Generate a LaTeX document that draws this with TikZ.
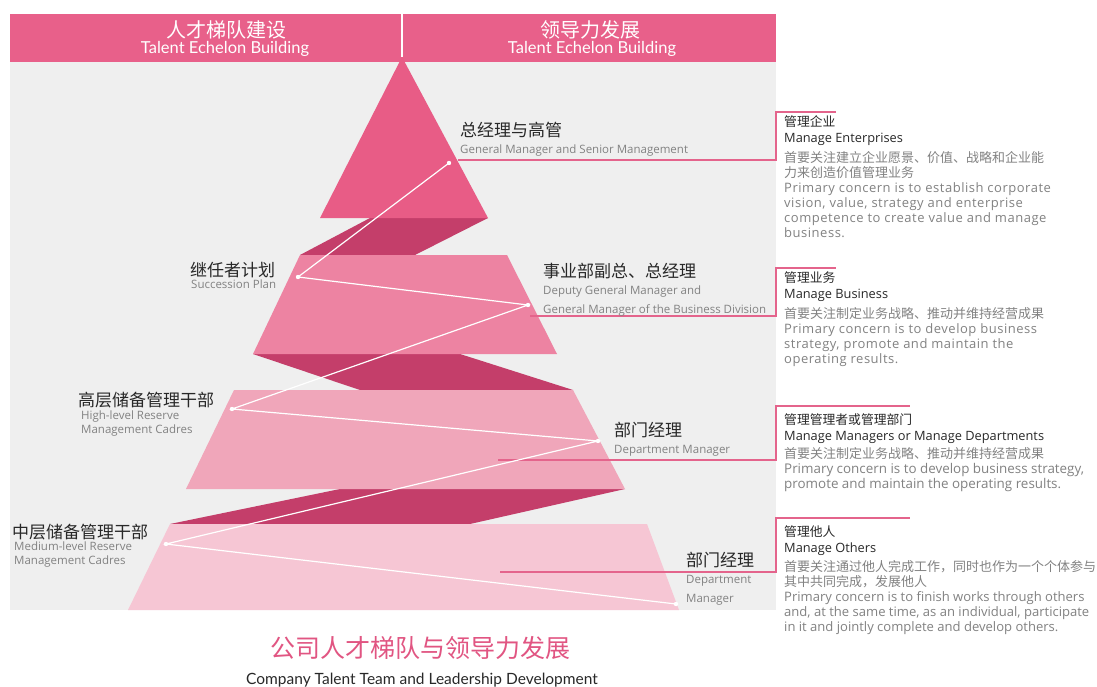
\documentclass[tikz,border=0pt]{standalone}
\usepackage{fontspec}
\setmainfont{Noto Sans CJK SC}
\newfontfamily\latfont{Lato}
\newfontfamily\ensans{Open Sans}
\newfontfamily\enwide{Open Sans}[LetterSpace=4]
\newcommand{\enl}[1]{{\ensans #1}}
\newcommand{\enw}[1]{{\enwide #1}}
\newcommand{\enb}[1]{{\ensans\fontsize{13.4}{15}\selectfont #1}}
\newcommand{\enc}[1]{{\ensans\fontsize{13.05}{15}\selectfont #1}}
\definecolor{hdr}{RGB}{232,96,138}
\definecolor{bgc}{RGB}{239,239,239}
\definecolor{layA}{RGB}{232,92,134}
\definecolor{layB}{RGB}{237,131,162}
\definecolor{layC}{RGB}{240,166,186}
\definecolor{layD}{RGB}{246,198,212}
\definecolor{darkband}{RGB}{196,62,106}
\definecolor{ink}{RGB}{40,40,40}
\definecolor{subink}{RGB}{130,130,130}
\definecolor{leadc}{RGB}{228,100,140}
\definecolor{titlec}{RGB}{225,85,130}
\tikzset{
  cnlabel/.style={anchor=west, inner sep=0pt, text=ink, font=\fontsize{17}{19}\selectfont},
  enlabel/.style={anchor=north west, inner sep=0pt, text=subink, align=left},
  rtitle/.style={anchor=north west, inner sep=0pt, text=ink, align=left, font=\fontsize{12.8}{16}\selectfont},
  rbody/.style={anchor=north west, inner sep=0pt, text=subink, align=left, font=\fontsize{13}{15}\selectfont},
  hdrtext/.style={inner sep=0pt, text=white},
  zig/.style={white, line width=1.2pt},
  zdot/.style={fill=white, draw=none},
  leader/.style={leadc, line width=1.1pt},
}
\begin{document}
\begin{tikzpicture}[x=1pt,y=-1pt]
\useasboundingbox (0,0) rectangle (1097,687);
\fill[white] (0,0) rectangle (1097,687);
\fill[bgc] (10,62) rectangle (776,610);
\fill[hdr] (10,14) rectangle (776,62);
% header texts
\node[hdrtext, font=\fontsize{20}{22}\selectfont] (hl1) at (226,30) {人才梯队建设};
\node[hdrtext, font=\latfont\fontsize{16.5}{18}\selectfont] (hl2) at (225,49) {Talent Echelon Building};
\node[hdrtext, font=\fontsize{20}{22}\selectfont] (hr1) at (590,30) {领导力发展};
\node[hdrtext, font=\latfont\fontsize{16.5}{18}\selectfont] (hr2) at (592,49) {Talent Echelon Building};
% dark bands
\fill[darkband] (370,218) -- (488,218) -- (415,255) -- (300,255) -- cycle;
\fill[darkband] (253,354) -- (460,354) -- (573,390) -- (360,390) -- cycle;
\fill[darkband] (340,489) -- (625,489) -- (470,524) -- (170,524) -- cycle;
% layers
\fill[layD] (170,524) -- (647,524) -- (679,610) -- (128,610) -- cycle;
\fill[layC] (234,390) -- (573,390) -- (625,489) -- (186,489) -- cycle;
\fill[layB] (300,255) -- (507,255) -- (557,354) -- (253,354) -- cycle;
\fill[layA] (402,57) -- (488,218) -- (320,218) -- cycle;
\draw[white, line width=2pt] (402,14) -- (402,57);
% leader lines
\coordinate (a1) at (458,160); \coordinate (a2) at (776,160); \coordinate (a3) at (776,112); \coordinate (a4) at (836,112);
\coordinate (b1) at (530,316); \coordinate (b2) at (776,316); \coordinate (b3) at (776,268); \coordinate (b4) at (836,268);
\coordinate (c1) at (498,460); \coordinate (c2) at (776,460); \coordinate (c3) at (776,406); \coordinate (c4) at (910,406);
\coordinate (d1) at (500,572); \coordinate (d2) at (776,572); \coordinate (d3) at (776,518); \coordinate (d4) at (910,518);
\draw[leader] (a1) -- (a2) -- (a3) -- (a4);
\draw[leader] (b1) -- (b2) -- (b3) -- (b4);
\draw[leader] (c1) -- (c2) -- (c3) -- (c4);
\draw[leader] (d1) -- (d2) -- (d3) -- (d4);
% zigzag
\coordinate (p1) at (449,163);
\coordinate (p2) at (298,277);
\coordinate (p3) at (528,305);
\coordinate (p4) at (232,409);
\coordinate (p5) at (598,441);
\coordinate (p6) at (166,544);
\coordinate (p7) at (676,604);
\draw[zig] (p1) -- (p2) -- (p3) -- (p4) -- (p5) -- (p6) -- (p7);
\foreach \p in {p1,p2,p3,p4,p5,p6,p7} \fill[zdot] (\p) circle (2.2);
% pyramid labels
\node[cnlabel] (l1) at (460,130) {总经理与高管};
\node[enlabel, font=\ensans\fontsize{11.5}{14}\selectfont] (l1e) at (460,145) {General Manager and Senior Management};
\node[cnlabel] (l2) at (190,270) {继任者计划};
\node[enlabel, font=\ensans\fontsize{11.5}{14}\selectfont] (l2e) at (191,280) {Succession Plan};
\node[cnlabel] (l3) at (543,271) {事业部副总、总经理};
\node[enlabel, font=\ensans\fontsize{11.5}{19}\selectfont] (l3e) at (543,286) {Deputy General Manager and\\General Manager of the Business Division};
\node[cnlabel] (l4) at (78,400) {高层储备管理干部};
\node[enlabel, font=\ensans\fontsize{11.5}{14}\selectfont] (l4e) at (81,411) {High-level Reserve\\Management Cadres};
\node[cnlabel] (l5) at (614,430) {部门经理};
\node[enlabel, font=\ensans\fontsize{11.5}{14}\selectfont] (l5e) at (614,445) {Department Manager};
\node[cnlabel] (l6) at (12,532) {中层储备管理干部};
\node[enlabel, font=\ensans\fontsize{11.5}{14}\selectfont] (l6e) at (14,542) {Medium-level Reserve\\Management Cadres};
\node[cnlabel] (l7) at (686,560) {部门经理};
\node[enlabel, font=\ensans\fontsize{11.5}{19}\selectfont] (l7e) at (686,575) {Department\\Manager};
% right blocks
\node[rtitle] (r1t) at (784,115) {管理企业\\\enl{Manage Enterprises}};
\node[rbody] (r1b) at (784,151) {首要关注建立企业愿景、价值、战略和企业能\\力来创造价值管理业务\\\enw{Primary concern is to establish corporate}\\\enw{vision, value, strategy and enterprise}\\\enw{competence to create value and manage}\\\enw{business.}};
\node[rtitle] (r2t) at (784,271) {管理业务\\\enl{Manage Business}};
\node[rbody] (r2b) at (784,307) {首要关注制定业务战略、推动并维持经营成果\\\enw{Primary concern is to develop business}\\\enw{strategy, promote and maintain the}\\\enw{operating results.}};
\node[rtitle] (r3t) at (784,413) {管理管理者或管理部门\\\enl{Manage Managers or Manage Departments}};
\node[rbody] (r3b) at (784,447) {首要关注制定业务战略、推动并维持经营成果\\\enb{Primary concern is to develop business strategy,}\\\enb{promote and maintain the operating results.}};
\node[rtitle] (r4t) at (784,525) {管理他人\\\enl{Manage Others}};
\node[rbody] (r4b) at (784,560) {首要关注通过他人完成工作，同时也作为一个个体参与\\其中共同完成，发展他人\\\enc{Primary concern is to finish works through others}\\\enc{and, at the same time, as an individual, participate}\\\enc{in it and jointly complete and develop others.}};
% bottom title
\node[inner sep=0pt, text=titlec, font=\fontsize{25}{27}\selectfont] (bt1) at (420,648) {公司人才梯队与领导力发展};
\node[inner sep=0pt, text=ink, font=\latfont\fontsize{15.5}{17}\selectfont] (bt2) at (422,680) {Company Talent Team and Leadership Development};
\end{tikzpicture}
\end{document}
